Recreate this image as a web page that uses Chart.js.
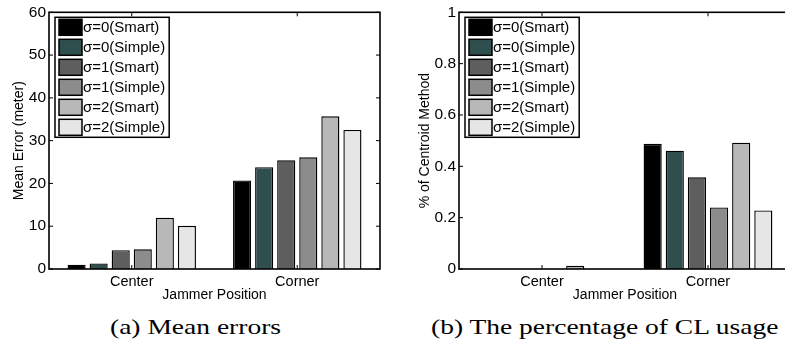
<!DOCTYPE html>
<html><head><meta charset="utf-8">
<script src="https://cdn.jsdelivr.net/npm/chart.js@4"></script>
<style>
html,body{margin:0;padding:0;background:#fff;width:785px;height:346px;overflow:hidden;position:relative}
.box{position:absolute;top:0}
#wa{left:0;width:390px;height:305px}
#wb{left:395px;width:400px;height:305px}
.cap{position:absolute;font-family:"Liberation Serif","Times New Roman",serif;font-size:22px;transform:scaleX(1.25);transform-origin:0 0;white-space:nowrap;color:#000;line-height:22px}
</style></head><body>
<div class="box" id="wa"><canvas id="ca"></canvas></div>
<div class="box" id="wb"><canvas id="cb"></canvas></div>
<div class="cap" style="left:110px;top:316px">(a) Mean errors</div>
<div class="cap" style="left:431px;top:316px">(b) The percentage of CL usage</div>
<script>
// ---- data ----
const categories = ['Center', 'Corner'];
const seriesLabels = ['σ=0(Smart)', 'σ=0(Simple)', 'σ=1(Smart)', 'σ=1(Simple)', 'σ=2(Smart)', 'σ=2(Simple)'];
const seriesColors = ['#000000', '#2f4f4f', '#5e5e5e', '#8c8c8c', '#b8b8b8', '#e6e6e6'];

// (a) mean error (meter)
const errSigma0Smart  = [1.0, 20.7];
const errSigma0Simple = [1.3, 23.8];
const errSigma1Smart  = [4.4, 25.4];
const errSigma1Simple = [4.6, 26.1];
const errSigma2Smart  = [11.95, 35.7];
const errSigma2Simple = [10.1, 32.5];

// (b) fraction of centroid method
const pctSigma0Smart  = [0, 0.488];
const pctSigma0Simple = [0, 0.461];
const pctSigma1Smart  = [0, 0.357];
const pctSigma1Simple = [0, 0.240];
const pctSigma2Smart  = [0.013, 0.492];
const pctSigma2Simple = [0, 0.228];

const yTicksA = [0, 10, 20, 30, 40, 50, 60];
const yTicksB = [0, 0.2, 0.4, 0.6, 0.8, 1];

// ---- chart ----
const FAMILY = '"Liberation Sans", Arial, Helvetica, sans-serif';
Chart.defaults.font.family = FAMILY;
Chart.defaults.font.size = 14;
Chart.defaults.color = '#000';
const LEGEND_SIZE = 15;

const frameTicks = {
  id: 'frameTicks',
  afterDatasetsDraw(chart) {
    const {ctx, chartArea: a, scales: {x, y}} = chart;
    ctx.save();
    ctx.strokeStyle = '#000';
    ctx.lineWidth = 1;
    ctx.beginPath();
    y.ticks.forEach(t => {
      const py = y.getPixelForValue(t.value);
      ctx.moveTo(a.left, py); ctx.lineTo(a.left + 4, py);
      ctx.moveTo(a.right, py); ctx.lineTo(a.right - 4, py);
    });
    x.ticks.forEach((t, i) => {
      const px = x.getPixelForTick(i);
      ctx.moveTo(px, a.bottom); ctx.lineTo(px, a.bottom - 4);
      ctx.moveTo(px, a.top); ctx.lineTo(px, a.top + 4);
    });
    ctx.stroke();
    ctx.lineWidth = 1.6;
    ctx.strokeRect(a.left, a.top, a.right - a.left, a.bottom - a.top);
    ctx.restore();
  }
};

const boxLegend = {
  id: 'boxLegend',
  afterDraw(chart) {
    const {ctx, chartArea: a} = chart;
    const ds = chart.data.datasets;
    ctx.save();
    ctx.font = LEGEND_SIZE + 'px ' + FAMILY;
    let maxW = 0;
    ds.forEach(d => { maxW = Math.max(maxW, ctx.measureText(d.label).width); });
    const bx = a.left + 6, by = a.top + 5;
    const rowH = 20, swW = 23, swH = 16;
    const bw = 4 + swW + 1 + maxW + 4;
    const bh = ds.length * rowH;
    ctx.fillStyle = '#fff';
    ctx.fillRect(bx, by, bw, bh);
    ctx.strokeStyle = '#000';
    ctx.lineWidth = 1.5;
    ctx.strokeRect(bx, by, bw, bh);
    ds.forEach((d, i) => {
      const sy = by + 2 + i * rowH;
      ctx.fillStyle = d.backgroundColor;
      ctx.fillRect(bx + 4, sy, swW, swH);
      ctx.strokeRect(bx + 4, sy, swW, swH);
      ctx.fillStyle = '#000';
      ctx.textBaseline = 'middle';
      ctx.textAlign = 'left';
      ctx.fillText(d.label, bx + 4 + swW + 1, sy + swH / 2 + 1);
    });
    ctx.restore();
  }
};

function makeDatasets(arrs) {
  return arrs.map((arr, i) => ({
    label: seriesLabels[i],
    data: arr,
    backgroundColor: seriesColors[i],
    borderColor: '#000',
    borderWidth: 1.4,
    categoryPercentage: 0.8,
    barPercentage: 0.82
  }));
}

function makeChart(id, arrs, yMax, yStep, yTitle, yWidth, yTitlePad, padRight) {
  return new Chart(document.getElementById(id), {
    type: 'bar',
    data: {labels: categories, datasets: makeDatasets(arrs)},
    options: {
      responsive: true,
      maintainAspectRatio: false,
      animation: false,
      layout: {padding: {left: 0, right: padRight, top: 8, bottom: 0}},
      plugins: {legend: {display: false}, tooltip: {enabled: false}},
      scales: {
        x: {
          type: 'category',
          offset: true,
          grid: {display: false, drawTicks: false},
          border: {display: false},
          ticks: {color: '#000', padding: 4, font: {size: 14.5}},
          title: {display: true, text: 'Jammer Position', color: '#000', font: {size: 14}, padding: {top: 0, bottom: 1.6}},
          afterFit(s) { s.height = 36; }
        },
        y: {
          min: 0, max: yMax,
          grid: {display: false, drawTicks: false},
          border: {display: false},
          ticks: {stepSize: yStep, color: '#000', padding: 3, font: {size: 15.5},
                  callback: v => String(Math.round(v * 100) / 100)},
          title: {display: true, text: yTitle, color: '#000', font: {size: 14}, padding: {top: yTitlePad, bottom: 0}},
          afterFit(s) { s.width = yWidth; }
        }
      }
    },
    plugins: [frameTicks, boxLegend]
  });
}

makeChart('ca',
  [errSigma0Smart, errSigma0Simple, errSigma1Smart, errSigma1Simple, errSigma2Smart, errSigma2Simple],
  yTicksA[yTicksA.length - 1], yTicksA[1] - yTicksA[0], 'Mean Error (meter)', 49, 10.4, 10);
makeChart('cb',
  [pctSigma0Smart, pctSigma0Simple, pctSigma1Smart, pctSigma1Simple, pctSigma2Smart, pctSigma2Simple],
  yTicksB[yTicksB.length - 1], yTicksB[1] - yTicksB[0], '% of Centroid Method', 64, 21.6, 4);
</script>
</body></html>
